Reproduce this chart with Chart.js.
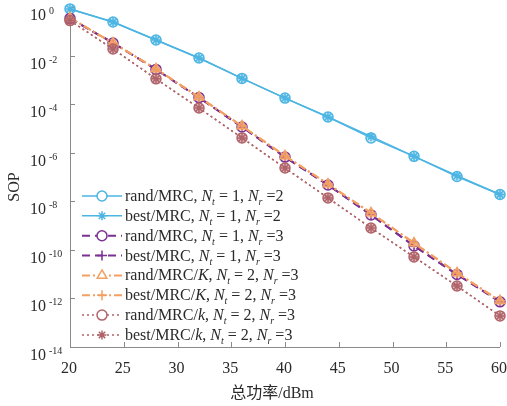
<!DOCTYPE html>
<html>
<head>
<meta charset="utf-8">
<script src="https://cdn.jsdelivr.net/npm/chart.js@4.4.1/dist/chart.umd.min.js"></script>
<style>
  html, body { margin: 0; padding: 0; background: #fff; }
</style>
</head>
<body>
<canvas id="sopChart" width="507" height="406"></canvas>
<script>
// total transmit power (dBm)
const power = [20, 24, 28, 32, 36, 40, 44, 48, 52, 56, 60];

// secrecy outage probability per scheme
const randMrc12 = [0.832, 0.240, 4.37e-2, 7.94e-3, 1.15e-3, 1.78e-4, 2.95e-5, 4.07e-6, 7.08e-7, 1.05e-7, 1.91e-8];
const bestMrc12 = [0.832, 0.240, 4.37e-2, 7.94e-3, 1.15e-3, 1.78e-4, 2.95e-5, 4.68e-6, 7.08e-7, 1.12e-7, 1.91e-8];
const randMrc13 = [0.339, 3.31e-2, 2.69e-3, 1.86e-4, 1.15e-5, 6.61e-7, 4.68e-8, 2.75e-9, 1.45e-10, 9.77e-12, 7.24e-13];
const bestMrc13 = [0.339, 3.31e-2, 2.69e-3, 1.86e-4, 1.15e-5, 6.61e-7, 4.68e-8, 2.75e-9, 1.45e-10, 9.77e-12, 7.24e-13];
const randMrcK23 = [0.355, 3.31e-2, 2.82e-3, 1.95e-4, 1.26e-5, 7.41e-7, 5.13e-8, 3.31e-9, 1.91e-10, 1.12e-11, 7.94e-13];
const bestMrcK23 = [0.355, 3.31e-2, 2.82e-3, 1.95e-4, 1.26e-5, 7.41e-7, 5.13e-8, 3.31e-9, 1.91e-10, 1.12e-11, 7.94e-13];
const randMrck23 = [0.275, 1.86e-2, 1.10e-3, 6.92e-5, 4.07e-6, 2.34e-7, 1.38e-8, 7.94e-10, 5.13e-11, 3.24e-12, 1.91e-13];
const bestMrck23 = [0.275, 1.86e-2, 1.10e-3, 6.92e-5, 4.07e-6, 2.34e-7, 1.38e-8, 7.94e-10, 5.13e-11, 3.24e-12, 1.91e-13];

// legend text pieces
const schemes = ['rand/MRC', 'best/MRC', 'rand/MRC', 'best/MRC', 'rand/MRC/K', 'best/MRC/K', 'rand/MRC/k', 'best/MRC/k'];
const ntValues = [1, 1, 1, 1, 2, 2, 2, 2];
const nrValues = [2, 2, 3, 3, 3, 3, 3, 3];

// axis ticks
const xTicks = [20, 25, 30, 35, 40, 45, 50, 55, 60];
const yExponents = [0, -2, -4, -6, -8, -10, -12, -14];

const BLUE = '#4cb5e3';
const PURPLE = '#7a3192';
const ORANGE = '#f3a062';
const BROWN = '#b0646a';
const SERIF = "'Liberation Serif', 'Times New Roman', serif";
const TEXT = '#2a2a2a';

const series = [randMrc12, bestMrc12, randMrc13, bestMrc13, randMrcK23, bestMrcK23, randMrck23, bestMrck23];
const looks = [
  { color: BLUE, face: 'rgba(76,181,227,0.35)', dash: [], width: 1.5, point: 'circle', r: 5 },
  { color: BLUE, face: 'rgba(0,0,0,0)', dash: [], width: 1.5, point: 'star', r: 4.5 },
  { color: PURPLE, face: 'rgba(122,49,146,0.15)', dash: [8, 5], width: 2, point: 'circle', r: 5 },
  { color: PURPLE, face: 'rgba(0,0,0,0)', dash: [8, 5], width: 2, point: 'cross', r: 5 },
  { color: ORANGE, face: 'rgba(243,160,98,0.45)', dash: [8, 3, 2, 3], width: 2, point: 'triangle', r: 5.5 },
  { color: ORANGE, face: 'rgba(0,0,0,0)', dash: [8, 3, 2, 3], width: 2, point: 'cross', r: 5 },
  { color: BROWN, face: 'rgba(176,100,106,0.45)', dash: [2, 3], width: 1.5, point: 'circle', r: 5 },
  { color: BROWN, face: 'rgba(0,0,0,0)', dash: [2, 3], width: 1.5, point: 'star', r: 4.5 }
];

const datasets = series.map((vals, i) => ({
  label: schemes[i],
  data: power.map((p, j) => ({ x: p, y: vals[j] })),
  order: -i, // later series sit on top
  borderColor: looks[i].color,
  borderWidth: looks[i].width,
  borderDash: looks[i].dash,
  pointStyle: looks[i].point,
  pointRadius: looks[i].r,
  pointBorderWidth: 1.5,
  pointBorderColor: looks[i].color,
  pointBackgroundColor: looks[i].face,
  fill: false,
  tension: 0,
  clip: false
}));

// rich text: normal / italic / subscript pieces drawn one after another
function drawRich(ctx, parts, x, y) {
  parts.forEach(p => {
    ctx.font = p.font;
    ctx.fillText(p.text, x, y + (p.dy || 0));
    x += ctx.measureText(p.text).width;
  });
}

function legendParts(scheme, nt, nr) {
  const normal = '16px ' + SERIF;
  const italic = 'italic 16px ' + SERIF;
  const sub = 'italic 10px ' + SERIF;
  const parts = [];
  const m = scheme.match(/^(.*\/)([Kk])$/);
  if (m) {
    parts.push({ text: m[1], font: normal }, { text: m[2], font: italic });
  } else {
    parts.push({ text: scheme, font: normal });
  }
  parts.push(
    { text: ', ', font: normal },
    { text: 'N', font: italic },
    { text: 't', font: sub, dy: 4 },
    { text: ' = ' + nt + ', ', font: normal },
    { text: 'N', font: italic },
    { text: 'r', font: sub, dy: 4 },
    { text: ' =' + nr, font: normal }
  );
  return parts;
}

const axesPlugin = {
  id: 'matlabAxes',
  beforeDatasetsDraw(chart) {
    const { ctx, chartArea: a, scales: { x, y } } = chart;
    ctx.save();
    ctx.strokeStyle = '#8a8a8a';
    ctx.lineWidth = 1;
    ctx.beginPath();
    ctx.moveTo(a.left + 0.5, a.top);
    ctx.lineTo(a.left + 0.5, a.bottom + 0.5);
    ctx.lineTo(a.right, a.bottom + 0.5);
    // inward tick marks
    xTicks.forEach(v => {
      const px = Math.round(x.getPixelForValue(v)) + 0.5;
      ctx.moveTo(px, a.bottom);
      ctx.lineTo(px, a.bottom - 5);
    });
    yExponents.forEach(e => {
      const py = Math.round(y.getPixelForValue(Math.pow(10, e))) + 0.5;
      ctx.moveTo(a.left, py);
      ctx.lineTo(a.left + 5, py);
    });
    ctx.stroke();
    ctx.restore();
  },
  afterDraw(chart) {
    const { ctx, scales: { x, y } } = chart;
    ctx.save();
    ctx.fillStyle = TEXT;
    ctx.textBaseline = 'alphabetic';

    // x tick labels
    ctx.font = '16px ' + SERIF;
    ctx.textAlign = 'center';
    xTicks.forEach(v => ctx.fillText(String(v), x.getPixelForValue(v) - 1, 373));

    // y tick labels as 10 with superscript exponent
    ctx.textAlign = 'left';
    yExponents.forEach(e => {
      const py = y.getPixelForValue(Math.pow(10, e));
      ctx.font = '16px ' + SERIF;
      ctx.fillText('10', 30, py + 13);
      ctx.font = '10px ' + SERIF;
      ctx.fillText(String(e), 49, py + 7);
    });

    // axis titles
    ctx.font = "16px 'Liberation Serif', 'Noto Sans CJK SC', serif";
    ctx.textAlign = 'center';
    ctx.fillText('总功率/dBm', 272, 398);
    ctx.save();
    ctx.translate(19, 187);
    ctx.rotate(-Math.PI / 2);
    ctx.font = '16px ' + SERIF;
    ctx.fillText('SOP', 0, 0);
    ctx.restore();

    // legend
    ctx.textAlign = 'left';
    datasets.forEach((ds, i) => {
      const cy = 196 + i * 19.85;
      const lk = looks[i];
      ctx.save();
      ctx.strokeStyle = lk.color;
      ctx.lineWidth = lk.width;
      ctx.setLineDash(lk.dash);
      ctx.beginPath();
      ctx.moveTo(82, cy);
      ctx.lineTo(122, cy);
      ctx.stroke();
      ctx.setLineDash([]);
      ctx.lineWidth = 1.5;
      ctx.fillStyle = '#fff';
      Chart.helpers.drawPoint(ctx, { pointStyle: lk.point, radius: lk.r, rotation: 0, borderWidth: 1.5 }, 102, cy);
      ctx.restore();
      ctx.fillStyle = TEXT;
      drawRich(ctx, legendParts(schemes[i], ntValues[i], nrValues[i]), 125, cy + 5);
    });
    ctx.restore();
  }
};

new Chart(document.getElementById('sopChart').getContext('2d'), {
  type: 'line',
  data: { datasets },
  options: {
    responsive: false,
    animation: false,
    devicePixelRatio: 1,
    layout: { padding: { top: 7, right: 7, left: 0, bottom: 0 } },
    plugins: { legend: { display: false }, tooltip: { enabled: false } },
    scales: {
      x: {
        type: 'linear',
        min: 20,
        max: 60,
        grid: { display: false },
        border: { display: false },
        ticks: { display: false },
        afterFit: s => { s.height = 59; }
      },
      y: {
        type: 'logarithmic',
        min: 1e-14,
        max: 1,
        grid: { display: false },
        border: { display: false },
        ticks: { display: false },
        afterFit: s => { s.width = 70; }
      }
    }
  },
  plugins: [axesPlugin]
});
</script>
</body>
</html>
